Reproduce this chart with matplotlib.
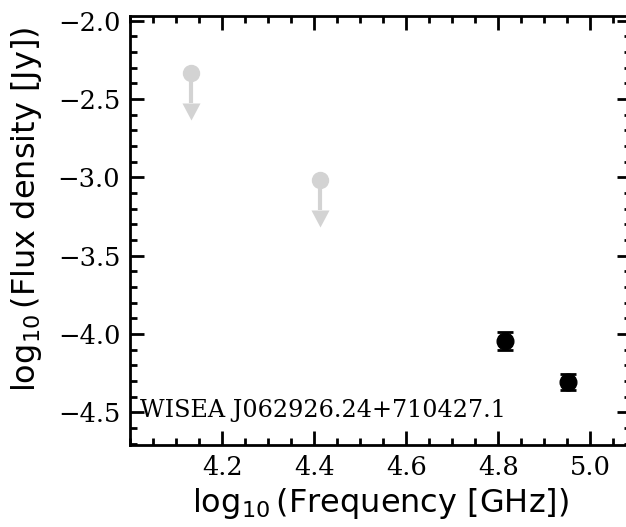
import matplotlib
matplotlib.use("Agg")
import numpy as np
import matplotlib.pyplot as plt
from matplotlib.ticker import MultipleLocator

plt.rcParams["mathtext.default"] = "regular"

# === Data ===
det_x = [4.814, 4.951]
det_y = [-4.045, -4.305]
det_err = [0.055, 0.05]

lim_x = [4.133, 4.413]
lim_y = [-2.335, -3.02]
lim_len = [0.19, 0.19]

source_name = "WISEA J062926.24+710427.1"

# === Figure ===
fig = plt.figure(figsize=(6.26, 5.27), dpi=100)
ax = fig.add_axes([0.2077, 0.155, 0.800, 0.815])

# upper limits: point, stem and arrow head (base at stem end, tip below)
gray = "lightgray"
head = [(-0.53, 0), (0.53, 0), (0, -1)]
lim_end = np.array(lim_y) - np.array(lim_len)
ax.vlines(lim_x, lim_end, lim_y, color=gray, lw=3)
ax.plot(lim_x, lim_end, ls="none", marker=head, ms=24.5, color=gray, mew=0)
ax.plot(lim_x, lim_y, "o", ms=11.5, color=gray)

# detections
ax.errorbar(det_x, det_y, yerr=det_err, fmt="o", color="black",
            markersize=12, elinewidth=2, capsize=6, capthick=2)

ax.text(0.02, 0.065, source_name, transform=ax.transAxes, family="DejaVu Serif",
        fontsize=17.2)

ax.set_xlim(4.0, 5.088)
ax.set_ylim(-4.71, -1.97)
ax.xaxis.set_major_locator(MultipleLocator(0.2))
ax.xaxis.set_minor_locator(MultipleLocator(0.05))
ax.yaxis.set_major_locator(MultipleLocator(0.5))
ax.yaxis.set_minor_locator(MultipleLocator(0.1))
ax.set_xticks([4.2, 4.4, 4.6, 4.8, 5.0])

ax.tick_params(which="both", direction="in", top=True, right=True, width=2)
ax.tick_params(which="major", length=10, labelsize=18.5, pad=7)
ax.tick_params(which="minor", length=5)
for lab in ax.get_xticklabels() + ax.get_yticklabels():
    lab.set_family("DejaVu Serif")
for sp in ax.spines.values():
    sp.set_linewidth(2)

ax.set_xlabel(r"$\log_{10}$(Frequency [GHz])", fontsize=23)
ax.set_ylabel(r"$\log_{10}$(Flux density [Jy])", fontsize=23)
ax.yaxis.set_label_coords(-0.172, 0.55)

fig.savefig("out.png", dpi=100)
